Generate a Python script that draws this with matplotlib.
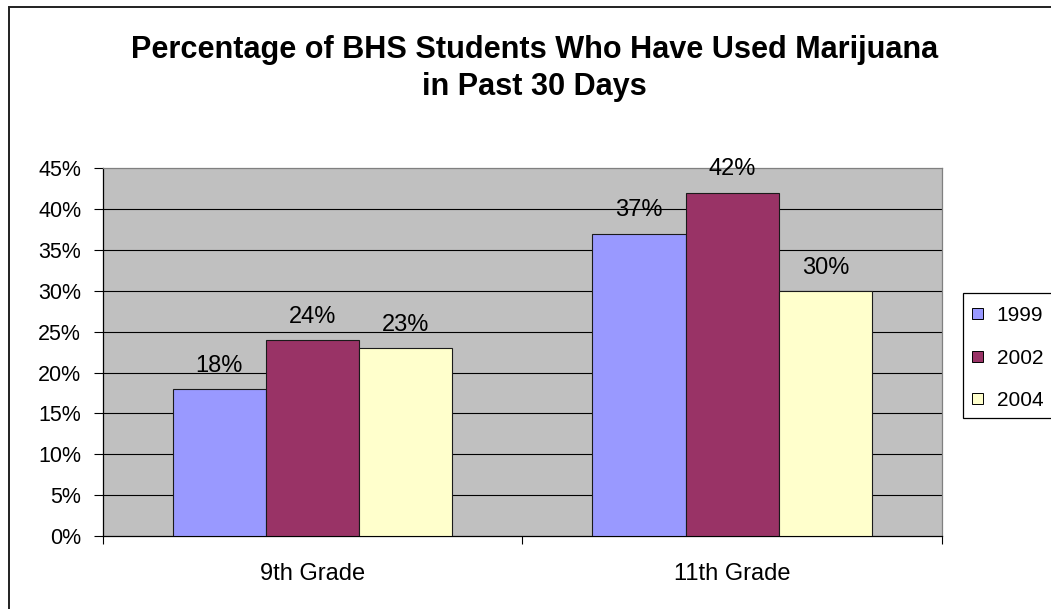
import matplotlib
matplotlib.use("Agg")
import matplotlib.pyplot as plt
from matplotlib.patches import Rectangle
import numpy as np

# Survey data: share of students reporting marijuana use in the past 30 days
grades = ["9th Grade", "11th Grade"]
years = ["1999", "2002", "2004"]
pct_1999 = [18, 37]
pct_2002 = [24, 42]
pct_2004 = [23, 30]
y_ticks = [0, 5, 10, 15, 20, 25, 30, 35, 40, 45]

series = [pct_1999, pct_2002, pct_2004]
colors = ["#9999FF", "#993366", "#FFFFCC"]

plt.rcParams["font.family"] = ["Liberation Sans", "DejaVu Sans"]

W, H = 1051, 609
fig = plt.figure(figsize=(W / 100, H / 100), dpi=100)
fig.patch.set_facecolor("white")


def fx(px):
    return px / W


def fy(py):
    return 1 - py / H


# outer chart border
fig.patches.append(Rectangle((fx(9), fy(H + 20)), fx(W + 20), fy(7) - fy(H + 20),
                             transform=fig.transFigure, fill=False,
                             edgecolor="#202020", linewidth=1.4, zorder=0))

ax = fig.add_axes([fx(102.7), fy(536), fx(942) - fx(102.7), fy(168.3) - fy(536)])
ax.set_facecolor("#C0C0C0")

x = np.arange(len(grades))
width = 1 / 4.5
offsets = [-width, 0, width]

for vals, col, off, yr in zip(series, colors, offsets, years):
    bars = ax.bar(x + off, vals, width, color=col, edgecolor="#1a1a1a",
                  linewidth=0.8, zorder=3, label=yr)
    for b, v in zip(bars, vals):
        ax.annotate(f"{v:.0f}%", (b.get_x() + b.get_width() / 2, v),
                    xytext=(0, 12.5), textcoords="offset points",
                    ha="center", va="baseline", fontsize=17, color="black")

ax.set_xlim(-0.5, len(grades) - 0.5)
ax.set_ylim(y_ticks[0], y_ticks[-1])

# horizontal gridlines between the axis ends
ax.hlines(y_ticks[1:-1], -0.5, len(grades) - 0.5, colors="black",
          linewidth=0.8, zorder=1)

ax.set_yticks(y_ticks)
ax.set_yticklabels([f"{t}%" for t in y_ticks], fontsize=15.5)
ax.tick_params(axis="y", direction="out", length=6.7, width=0.8, pad=8.8,
               colors="black")

ax.set_xticks(np.arange(-0.5, len(grades), 1.0))
ax.set_xticklabels([])
ax.tick_params(axis="x", direction="out", length=5.5, width=0.8)

for i, g in enumerate(grades):
    ax.annotate(g, (i, 0), xycoords=("data", "axes fraction"),
                xytext=(0, -31.5), textcoords="offset points",
                ha="center", va="baseline", fontsize=17)

for s in ["left", "bottom"]:
    ax.spines[s].set_color("black")
    ax.spines[s].set_linewidth(0.9)
for s in ["top", "right"]:
    ax.spines[s].set_color("#808080")
    ax.spines[s].set_linewidth(0.9)

# title
fig.text(fx(534.5), fy(57.7), "Percentage of BHS Students Who Have Used Marijuana",
         ha="center", va="baseline", fontsize=22.1, fontweight="bold")
fig.text(fx(534.5), fy(94.5), "in Past 30 Days",
         ha="center", va="baseline", fontsize=22.1, fontweight="bold")

# legend
fig.patches.append(Rectangle((fx(962.7), fy(418)), fx(120), fy(293) - fy(418),
                             transform=fig.transFigure, facecolor="white",
                             edgecolor="black", linewidth=0.9, zorder=5))
row_y = [313.5, 356, 398.5]
for yr, col, ry in zip(years, colors, row_y):
    fig.patches.append(Rectangle((fx(972), fy(ry + 5.5)), fx(11), fy(ry - 5.5) - fy(ry + 5.5),
                                 transform=fig.transFigure, facecolor=col,
                                 edgecolor="black", linewidth=0.7, zorder=6))
    fig.text(fx(996.7), fy(ry), yr, ha="left", va="center_baseline",
             fontsize=15, zorder=7)

fig.savefig("out.png", dpi=100)
